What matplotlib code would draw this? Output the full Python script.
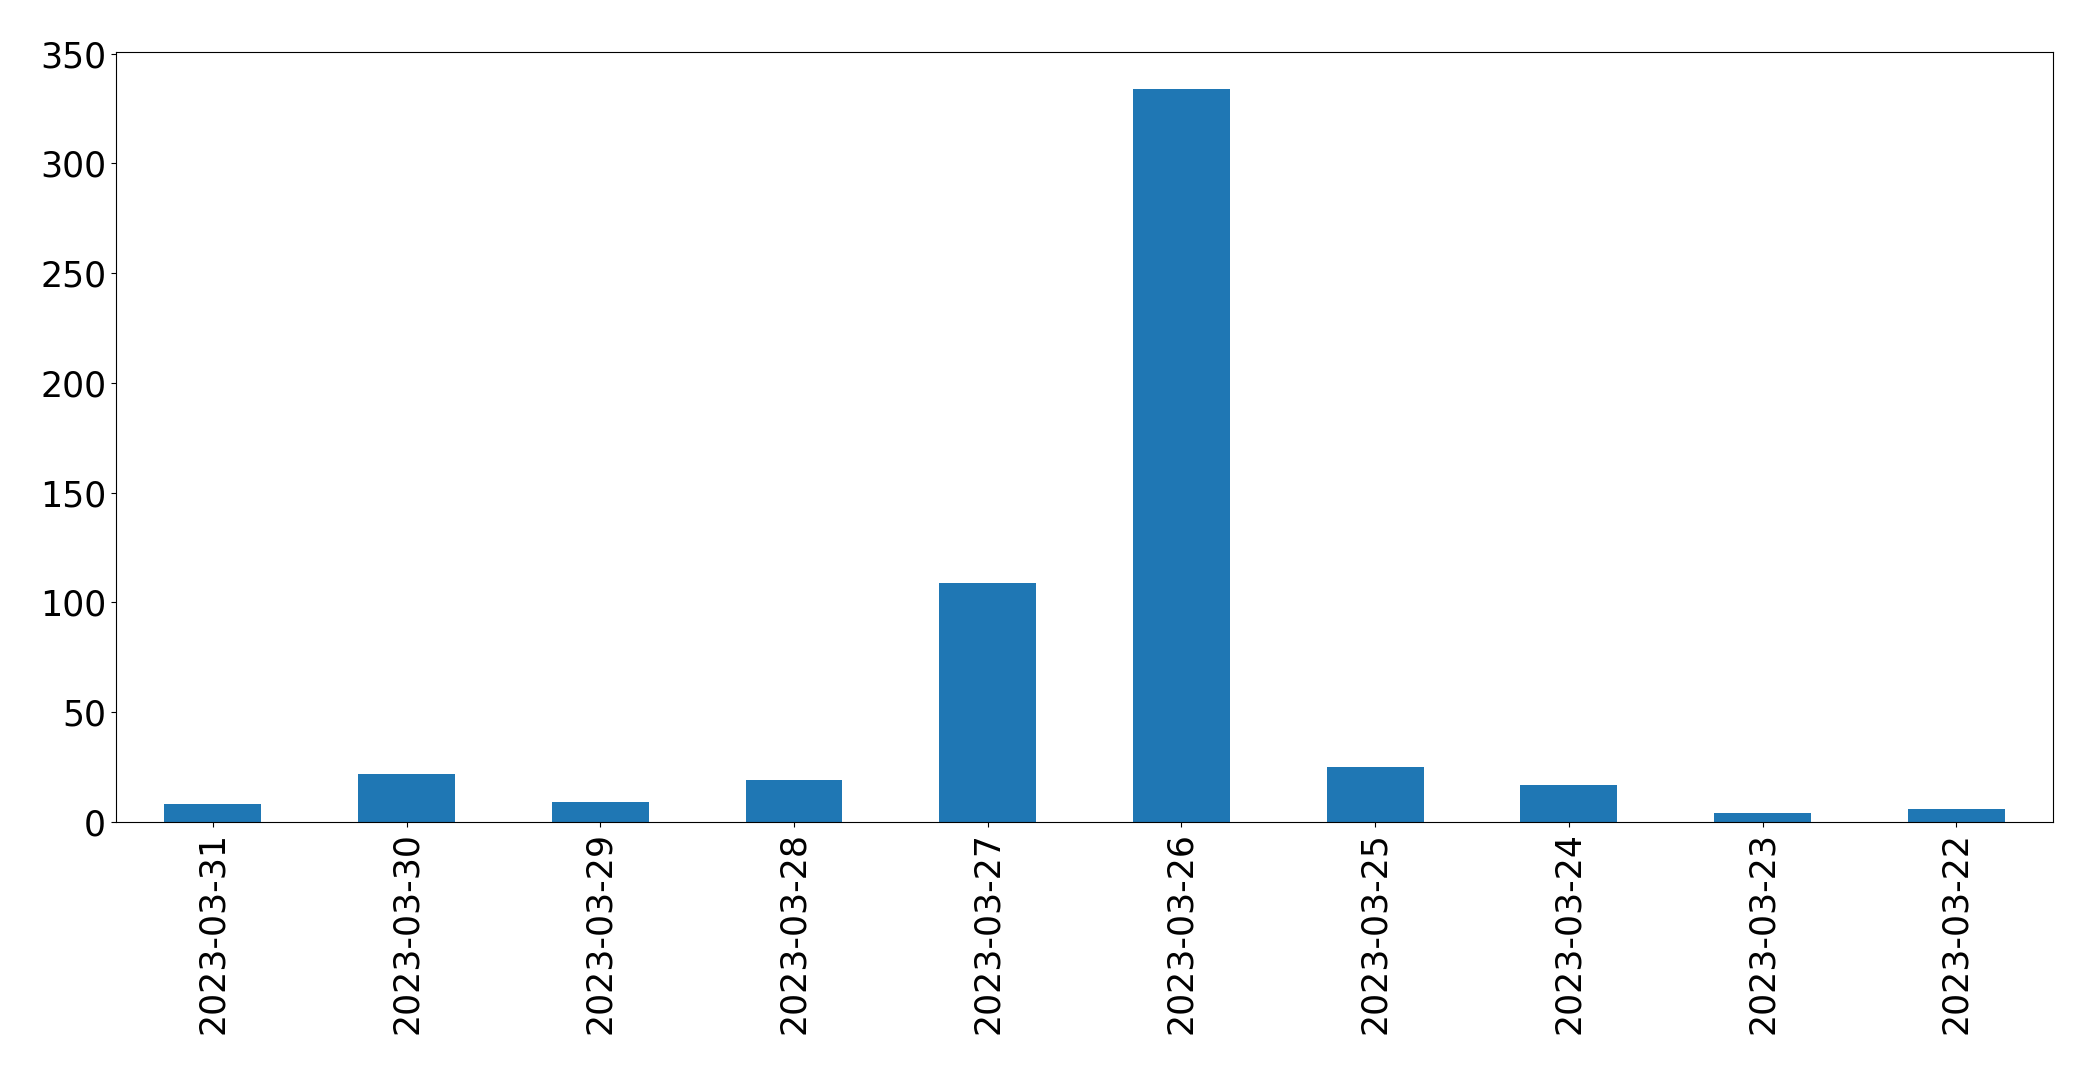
import matplotlib
matplotlib.use("Agg")
import matplotlib.pyplot as plt
import pandas as pd

# Daily counts, newest first (as in the source chart)
dates = ["2023-03-31", "2023-03-30", "2023-03-29", "2023-03-28", "2023-03-27",
         "2023-03-26", "2023-03-25", "2023-03-24", "2023-03-23", "2023-03-22"]
counts = [8, 22, 9, 19, 109, 334, 25, 17, 4, 6]


def main():
    series = pd.Series(counts, index=dates)

    fig = plt.figure(figsize=(20.93, 10.73), dpi=100)
    ax = fig.add_axes([0.0554, 0.234, 0.9256, 0.7175])

    series.plot(kind="bar", ax=ax, color="#1f77b4")

    ax.tick_params(axis="both", labelsize=25)
    plt.setp(ax.get_xticklabels(), rotation=90)

    fig.savefig("out.png", dpi=100)
    plt.close(fig)


if __name__ == "__main__":
    main()
